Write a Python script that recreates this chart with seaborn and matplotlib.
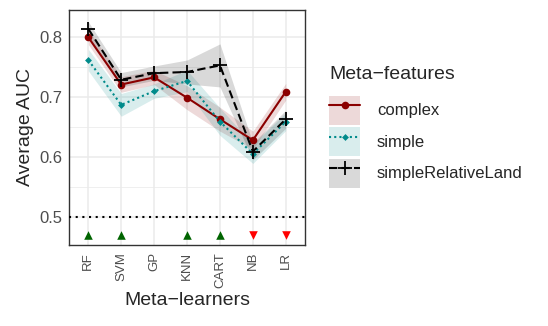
import numpy as np
import pandas as pd
import matplotlib
matplotlib.use("Agg")
import matplotlib.pyplot as plt
import seaborn as sns
from matplotlib.patches import Patch
from matplotlib.lines import Line2D
from matplotlib.ticker import MultipleLocator

# veri
learners = ["RF", "SVM", "GP", "KNN", "CART", "NB", "LR"]
auc_complex = [0.800, 0.721, 0.733, 0.699, 0.663, 0.628, 0.709]
auc_simple = [0.762, 0.687, 0.710, 0.727, 0.659, 0.605, 0.659]
auc_relland = [0.814, 0.729, 0.740, 0.742, 0.753, 0.609, 0.663]
# ribbon yarı genişlikleri
err_complex = [0.012, 0.013, 0.012, 0.020, 0.020, 0.015, 0.014]
err_simple = [0.018, 0.019, 0.012, 0.018, 0.023, 0.016, 0.015]
err_relland = [0.012, 0.012, 0.012, 0.020, 0.036, 0.014, 0.015]
# anlamlılık işaretleri
signif = ["up", "up", "none", "up", "up", "down", "down"]
signif_y = 0.47

groups = ["complex", "simple", "simpleRelativeLand"]
colors = {"complex": "#8B0000", "simple": "#008B8B", "simpleRelativeLand": "#000000"}
markers = {"complex": "o", "simple": "D", "simpleRelativeLand": "+"}
dashes = {"complex": "", "simple": (1, 1.5), "simpleRelativeLand": (4, 2)}
msizes = {"complex": 5.5, "simple": 3.5, "simpleRelativeLand": 10}

df = pd.DataFrame({
    "learner": learners * 3,
    "auc": auc_complex + auc_simple + auc_relland,
    "err": err_complex + err_simple + err_relland,
    "features": np.repeat(groups, len(learners)),
})

sns.set_theme(style="white")
plt.rcParams["font.family"] = ["Liberation Sans", "DejaVu Sans"]

fig = plt.figure(figsize=(5.48, 3.26), dpi=100)
ax = fig.add_axes([0.126, 0.2485, 0.4306, 0.7208])

x = np.arange(len(learners))
for g in groups:
    sub = df[df["features"] == g]
    ax.fill_between(x, sub["auc"] - sub["err"], sub["auc"] + sub["err"],
                    color=colors[g], alpha=0.15, lw=0, zorder=2)

for g in groups:
    sub = df[df["features"] == g]
    sns.lineplot(data=sub, x="learner", y="auc", color=colors[g], ax=ax,
                 marker=markers[g], markersize=msizes[g], mew=1.3 if g == "simpleRelativeLand" else 0,
                 mec=colors[g], lw=1.5, sort=False, legend=False, zorder=4)
    ax.lines[-1].set_dashes(dashes[g]) if dashes[g] else None

ax.axhline(0.5, color="black", ls=(0, (1, 2.2)), lw=1.5, zorder=3)

sig = pd.DataFrame({"learner": learners, "sig": signif, "y": signif_y})
up = sig[sig["sig"] == "up"]
down = sig[sig["sig"] == "down"]
ax.scatter([learners.index(l) for l in up["learner"]], up["y"], marker="^",
           color="#006400", s=38, lw=0, zorder=5)
ax.scatter([learners.index(l) for l in down["learner"]], down["y"], marker="v",
           color="#FF0000", s=38, lw=0, zorder=5)

ax.set_xlim(-0.585, 6.585)
ax.set_ylim(0.4527, 0.8456)
ax.set_xticks(x)
ax.set_xticklabels(learners, rotation=90)
ax.yaxis.set_major_locator(MultipleLocator(0.1))
ax.yaxis.set_minor_locator(MultipleLocator(0.05))
ax.yaxis.set_major_formatter(matplotlib.ticker.FormatStrFormatter("%.1f"))
ax.grid(True, which="major", color="#EBEBEB", lw=1.1, zorder=0)
ax.grid(True, which="minor", axis="y", color="#EBEBEB", lw=0.55, zorder=0)
ax.set_axisbelow(True)
for s in ax.spines.values():
    s.set_color("#333333")
    s.set_linewidth(1.0)
ax.tick_params(axis="both", which="major", length=3, width=1, color="#333333",
               labelcolor="#4D4D4D", pad=2)
ax.tick_params(axis="y", labelsize=12)
ax.tick_params(axis="x", labelsize=9.5)
ax.tick_params(which="minor", length=0)
ax.set_xlabel("Meta\u2212learners", fontsize=14, labelpad=3)
ax.set_ylabel("Average AUC", fontsize=14, labelpad=4)

# lejant
handles = []
for g in groups:
    p = Patch(facecolor=colors[g], alpha=0.15, edgecolor="none")
    l = Line2D([], [], color=colors[g], marker=markers[g], markersize=msizes[g],
               mew=1.3 if g == "simpleRelativeLand" else 0, lw=1.5)
    if dashes[g]:
        l.set_dashes(dashes[g])
    handles.append((p, l))
leg = ax.legend(handles, groups, title="Meta\u2212features", loc="upper left",
                bbox_to_anchor=(1.075, 0.79), frameon=False, fontsize=12,
                title_fontsize=14, handlelength=1.85, handleheight=2.3,
                labelspacing=0.15, handletextpad=1.0, borderaxespad=0)
leg._legend_box.align = "left"
leg._legend_box.sep = 9

fig.savefig("out.png", dpi=100)
